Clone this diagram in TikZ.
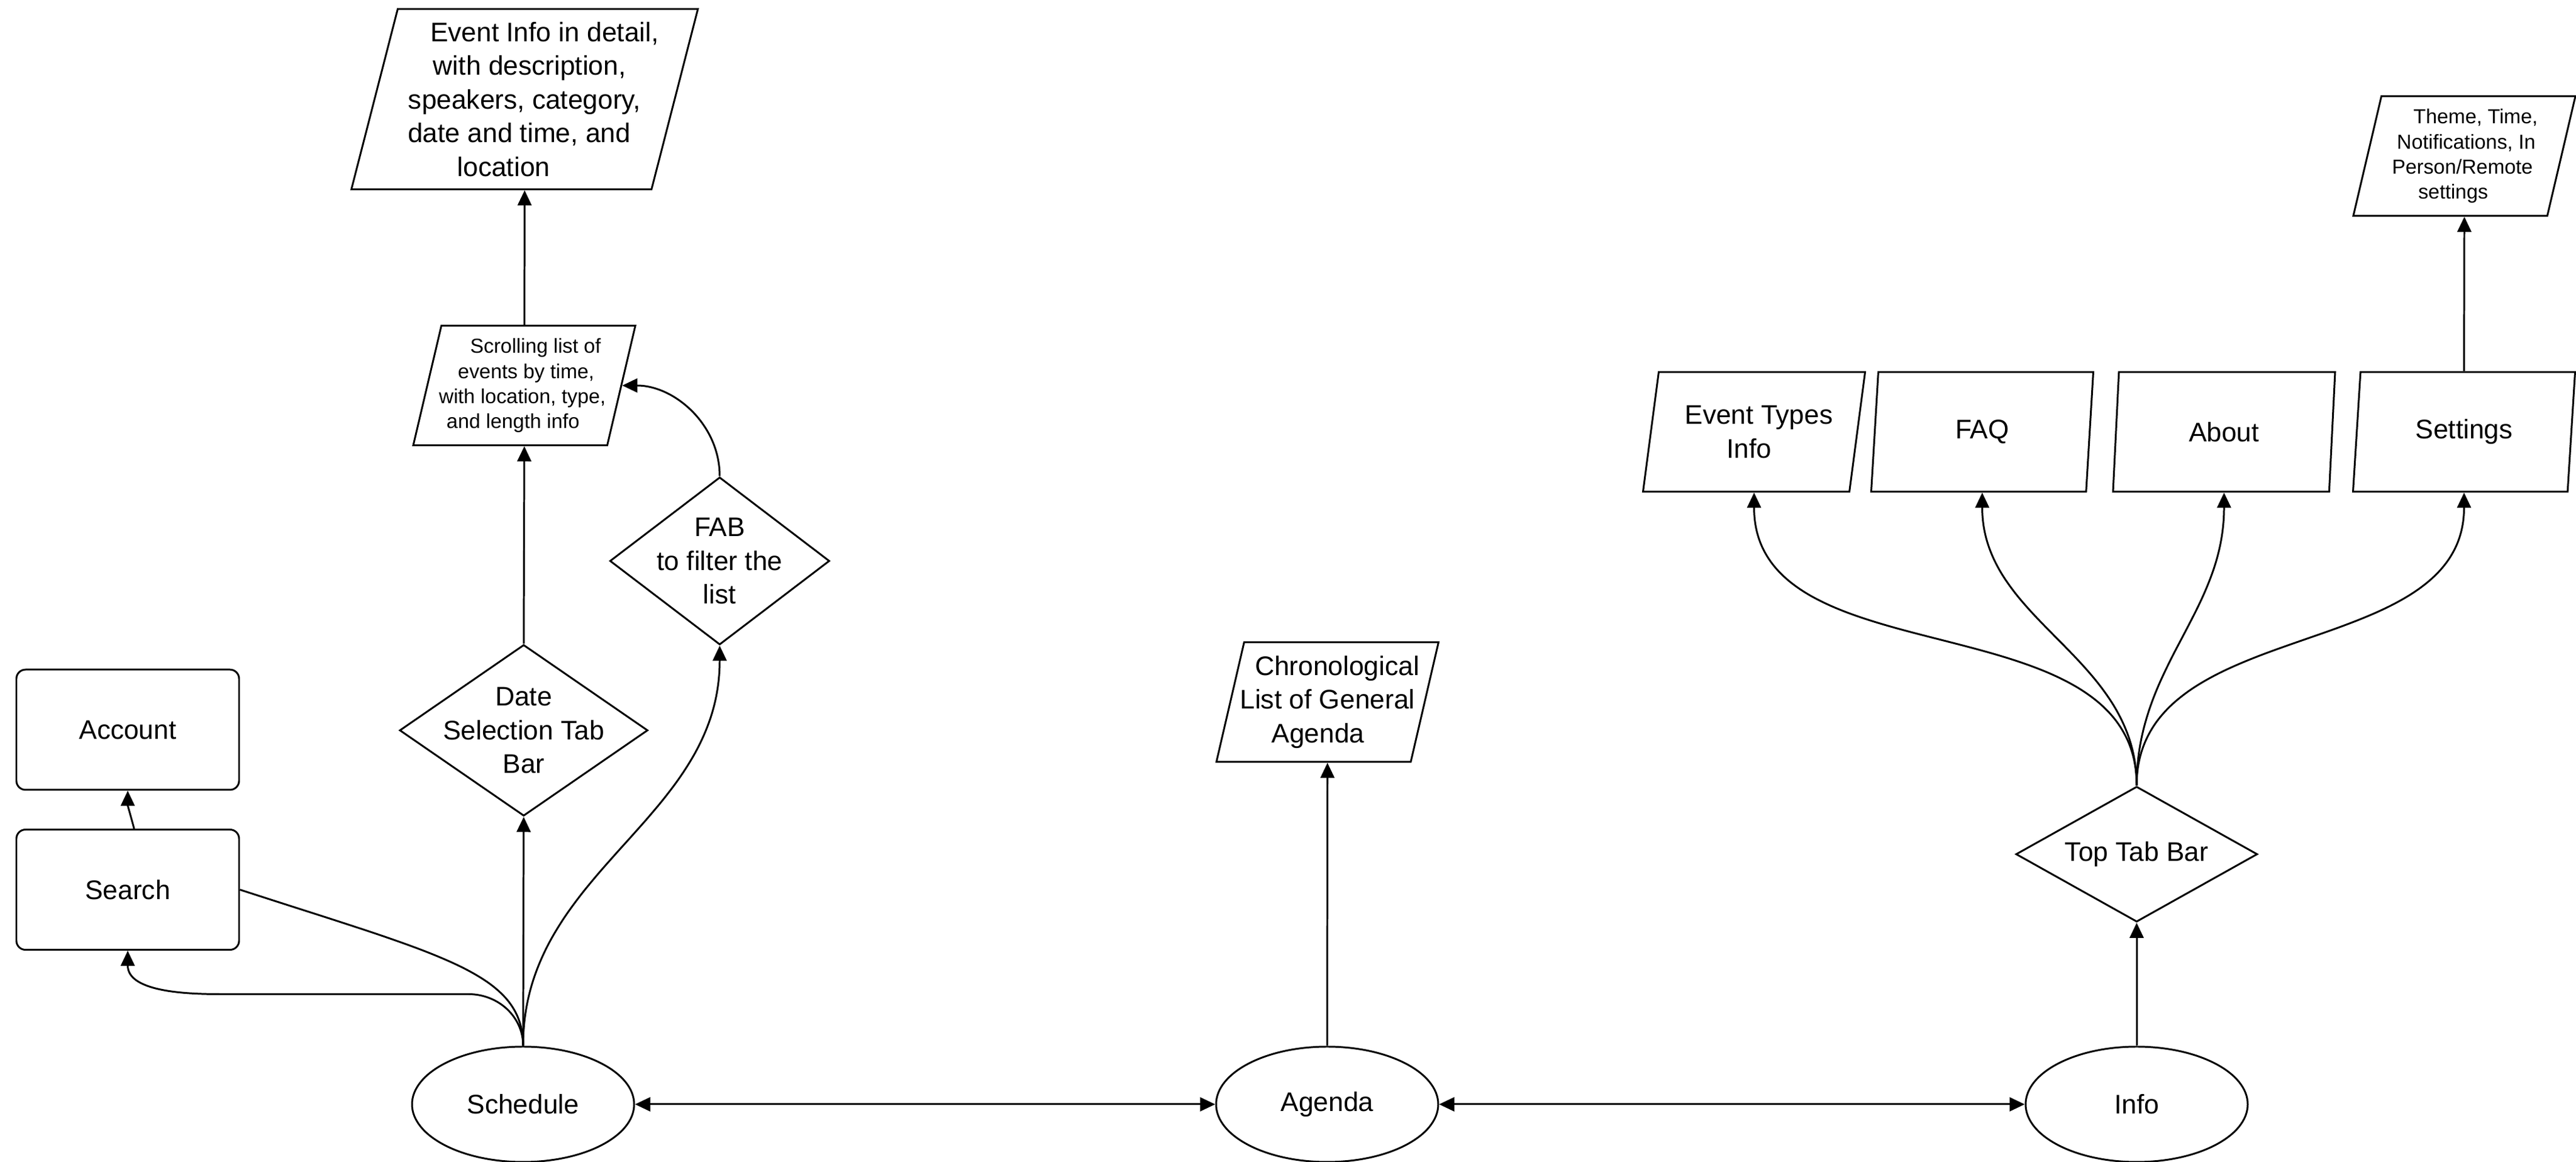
\documentclass[tikz,border=0pt]{standalone}
\usepackage{fontspec}
\setmainfont{Liberation Sans}
\usetikzlibrary{shapes.geometric,arrows.meta}

\newcommand{\bigtxt}{\fontsize{12.6}{15.8}\selectfont}
\newcommand{\smalltxt}{\fontsize{9.5}{11.7}\selectfont}
% moves one line of a slanted box sideways, keeping its width
\newcommand{\mv}[2]{\hspace*{#1}#2\hspace*{-#1}}

\begin{document}
\begin{tikzpicture}[line width=0.85pt, >={Triangle[length=2.5mm,width=2.3mm]}, font=\bigtxt,
  screen/.style={ellipse, draw, minimum width=3.66cm, minimum height=1.9cm, inner sep=0pt},
  panel/.style={rectangle, draw, rounded corners=0.15cm, minimum width=3.67cm, minimum height=1.98cm, inner sep=0pt},
  listbox/.style={trapezium, trapezium left angle=73.3, trapezium right angle=106.7, trapezium stretches body=true, draw, align=center, inner xsep=-1mm, inner ysep=0pt, minimum width=3.66cm, minimum height=1.97cm},
  choice/.style={diamond, draw, inner sep=0pt},
  every label/.style={font=\bigtxt, align=center}]
\useasboundingbox (0,0) rectangle (42.45,19.14);

% main screens
\node[screen] (schedule) at (8.62,0.95) {Schedule};
\node[screen] (agenda) at (21.87,0.95) {Agenda};
\node[screen] (info) at (35.21,0.95) {Info};

% schedule side
\node[panel] (search) at (2.105,4.485) {Search};
\node[panel] (account) at (2.105,7.12) {Account};
\node[choice, minimum width=4.09cm, minimum height=2.82cm, label=center:{Date\\Selection Tab\\Bar}] (datesel) at (8.63,7.11) {};
\node[choice, minimum width=3.62cm, minimum height=2.76cm, label=center:{FAB\\to filter the\\list}] (fab) at (11.86,9.90) {};
\node[listbox, font=\smalltxt] (scroll) at (8.64,12.79) {\mv{0.185cm}{Scrolling list of}\\\mv{0.06cm}{events by time,}\\\mv{-0.065cm}{with location, type,}\\\mv{-0.185cm}{and length info}};
\node[listbox, minimum width=5.71cm, minimum height=2.97cm] (evinfo) at (8.645,17.505) {\mv{0.33cm}{Event Info in detail,}\\\mv{0.165cm}{with description,}\\speakers, category,\\\mv{-0.175cm}{date and time, and}\\\mv{-0.345cm}{location}};

% agenda side
\node[listbox] (chrono) at (21.875,7.575) {\mv{0.16cm}{Chronological}\\List of General\\\mv{-0.155cm}{Agenda}};

% info side
\node[choice, minimum width=3.98cm, minimum height=2.23cm, label=center:{Top Tab Bar}] (topbar) at (35.21,5.07) {};
\node[listbox] (evtypes) at (28.905,12.025) {\mv{0.08cm}{Event Types}\\\mv{-0.08cm}{Info}};
\node[listbox] (faq) at (32.665,12.025) {FAQ};
\node[listbox] (about) at (36.65,12.025) {About};
\node[listbox] (settings) at (40.605,12.025) {Settings};
\node[listbox, font=\smalltxt] (theme) at (40.61,16.57) {\mv{0.185cm}{Theme, Time,}\\\mv{0.06cm}{Notifications, In}\\\mv{-0.065cm}{Person/Remote}\\\mv{-0.185cm}{settings}};

% connectors
\draw[<->] (schedule) -- (agenda);
\draw[<->] (agenda) -- (info);
\draw[->] (schedule.north) -- (datesel.south);
\draw[->] (schedule.north) to[out=90,in=-90] (fab.south);
\draw (search.east) .. controls +(-18:3.5) and +(0,1.2) .. (schedule.north);
\draw[->] (schedule.north) to[out=90,in=0] ++(-0.9,0.85) -- ++(-4.1,0) to[out=180,in=-90] (search.south);
\draw[->] (search.84) to[out=105,in=-90] (account.south);
\draw[->] (datesel.north) -- (scroll.south);
\draw[->] (scroll.north) -- (evinfo.south);
\draw[->] (fab.north) to[out=90,in=0] (scroll.east);
\draw[->] (agenda.north) -- (chrono.south);
\draw[->] (info.north) -- (topbar.south);
\foreach \n in {evtypes,faq,about,settings}
  \draw[->] (topbar.north) to[out=90,in=-90] (\n.south);
\draw[->] (settings.north) -- (theme.south);
\end{tikzpicture}
\end{document}
